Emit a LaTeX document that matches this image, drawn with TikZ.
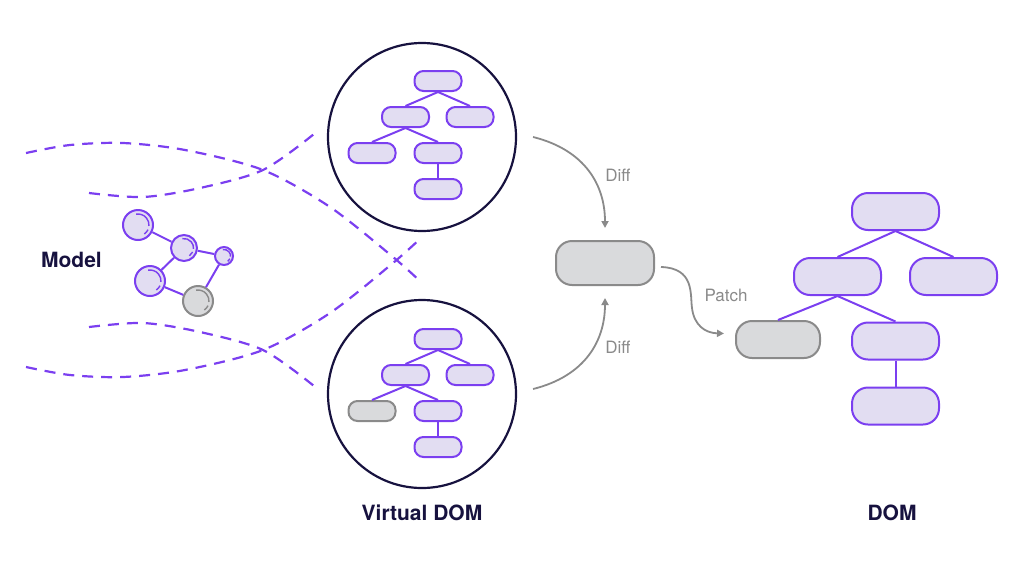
\documentclass[tikz,border=0pt]{standalone}
\usepackage{fontspec}
\setmainfont{TeX Gyre Heros}
\usetikzlibrary{arrows.meta}
\definecolor{pur}{HTML}{7B3FF0}
\definecolor{lav}{HTML}{E2DDF2}
\definecolor{navy}{HTML}{17123F}
\definecolor{gr}{HTML}{8A8A8A}
\definecolor{grf}{HTML}{D9DADC}
\newcommand\hilite[3]{%
  \draw[line width=1.4pt,draw=#3] ([shift={(100:#2)}]#1.center) arc[start angle=100,end angle=-5,radius=#2];
  \draw[line width=1.4pt,draw=#3] ([shift={(-25:#2)}]#1.center) arc[start angle=-25,end angle=-55,radius=#2];}
\begin{document}
\begin{tikzpicture}[x=1pt,y=-1pt,
  vbox/.style={draw=pur,fill=lav,line width=2pt,rounded corners=9pt,minimum width=47pt,minimum height=20pt,inner sep=0pt},
  vgray/.style={vbox,draw=gr,fill=grf},
  dbox/.style={draw=pur,fill=lav,line width=2pt,rounded corners=16pt,minimum width=87pt,minimum height=37pt,inner sep=0pt},
  dgray/.style={dbox,draw=gr,fill=grf,minimum width=84pt},
  tedge/.style={draw=pur,line width=2pt},
  ring/.style={draw=navy,line width=2.2pt,circle,minimum size=188pt,inner sep=0pt},
  dashline/.style={draw=pur,line width=2.2pt,dash pattern=on 11pt off 8pt},
  arr/.style={draw=gr,line width=1.8pt,-{Triangle[length=7pt,width=7pt]}},
  lbl/.style={text=gr,font=\fontsize{17}{20}\selectfont,inner sep=0pt},
  ttl/.style={text=navy,font=\fontsize{21}{25}\selectfont\bfseries,inner sep=0pt},
  atom/.style={circle,draw=pur,fill=lav,line width=2pt,inner sep=0pt},
  gatom/.style={atom,draw=gr,fill=grf}]
\useasboundingbox (0,0) rectangle (1022,571);

% dashed model projections
\draw[dashline] plot[smooth] coordinates {(26,153) (70,145) (123,143) (185,150) (263,170) (330,207) (393,257) (422,283)};
\draw[dashline] plot[smooth] coordinates {(26,367) (70,375) (123,377) (185,370) (263,350) (330,313) (393,263) (422,237)};
\draw[dashline] plot[smooth] coordinates {(89,193) (143,197) (200,188) (263,170) (314,134)};
\draw[dashline] plot[smooth] coordinates {(89,327) (143,323) (200,332) (263,350) (314,386)};

% model molecule
\node[atom,minimum size=30pt] (mA) at (138,225) {};
\node[atom,minimum size=26pt] (mB) at (184,248) {};
\node[atom,minimum size=18pt] (mC) at (224,256) {};
\node[atom,minimum size=30pt] (mD) at (150,281) {};
\node[gatom,minimum size=30pt] (mE) at (198,301) {};
\draw[tedge] (mA) -- (mB);
\draw[tedge] (mB) -- (mC);
\draw[tedge] (mB) -- (mD);
\draw[tedge] (mC) -- (mE);
\draw[tedge] (mD) -- (mE);
\hilite{mA}{11pt}{pur}
\hilite{mB}{9.5pt}{pur}
\hilite{mC}{6.5pt}{pur}
\hilite{mD}{11pt}{pur}
\hilite{mE}{11pt}{gr}
\node[ttl] (model) at (71.5,259.5) {Model};

% virtual DOM circles
\node[ring] (vt) at (422,137) {};
\node[ring] (vb) at (422,394) {};

% top tree
\node[vbox] (t1) at (438,81) {};
\node[vbox] (t2) at (405.5,117) {};
\node[vbox] (t3) at (470,117) {};
\node[vbox] (t4) at (372,153) {};
\node[vbox] (t5) at (438,153) {};
\node[vbox] (t6) at (438,189) {};
\draw[tedge] (t1.south) -- (t2.north);
\draw[tedge] (t1.south) -- (t3.north);
\draw[tedge] (t2.south) -- (t4.north);
\draw[tedge] (t2.south) -- (t5.north);
\draw[tedge] (t5.south) -- (t6.north);

% bottom tree
\node[vbox] (b1) at (438,339) {};
\node[vbox] (b2) at (405.5,375) {};
\node[vbox] (b3) at (470,375) {};
\node[vgray] (b4) at (372,411) {};
\node[vbox] (b5) at (438,411) {};
\node[vbox] (b6) at (438,447) {};
\draw[tedge] (b1.south) -- (b2.north);
\draw[tedge] (b1.south) -- (b3.north);
\draw[tedge] (b2.south) -- (b4.north);
\draw[tedge] (b2.south) -- (b5.north);
\draw[tedge] (b5.south) -- (b6.north);

\node[ttl] (vlabel) at (422,512.5) {Virtual DOM};

% diff result
\node[dgray,minimum width=98pt,minimum height=44pt] (mid) at (605,263) {};

% real DOM
\node[dbox] (d1) at (895.5,211.5) {};
\node[dbox] (d2) at (837.5,276.5) {};
\node[dbox] (d3) at (953.5,276.5) {};
\node[dgray] (d4) at (778,339.5) {};
\node[dbox] (d5) at (895.5,341) {};
\node[dbox] (d6) at (895.5,406) {};
\draw[tedge] (d1.south) -- (d2.north);
\draw[tedge] (d1.south) -- (d3.north);
\draw[tedge] (d2.south) -- (d4.north);
\draw[tedge] (d2.south) -- (d5.north);
\draw[tedge] (d5.south) -- (d6.north);
\node[ttl] (dlabel) at (892,512.5) {DOM};

% arrows
\draw[arr] ([xshift=16pt]vt.east) .. controls (585,150) and (605,185) .. ([yshift=12pt]mid.north);
\draw[arr] ([xshift=16pt,yshift=5pt]vb.east) .. controls (585,376) and (605,341) .. ([yshift=-12pt]mid.south);
\draw[arr] ([xshift=6pt,yshift=-4pt]mid.east) .. controls (695,268) and (690,295) .. (692,308) .. controls (694,325) and (705,333) .. ([xshift=-11pt,yshift=6pt]d4.west);
\node[lbl] (diff1) at (618,175) {Diff};
\node[lbl] (diff2) at (618,347.5) {Diff};
\node[lbl] (patch) at (726,295) {Patch};
\end{tikzpicture}
\end{document}
